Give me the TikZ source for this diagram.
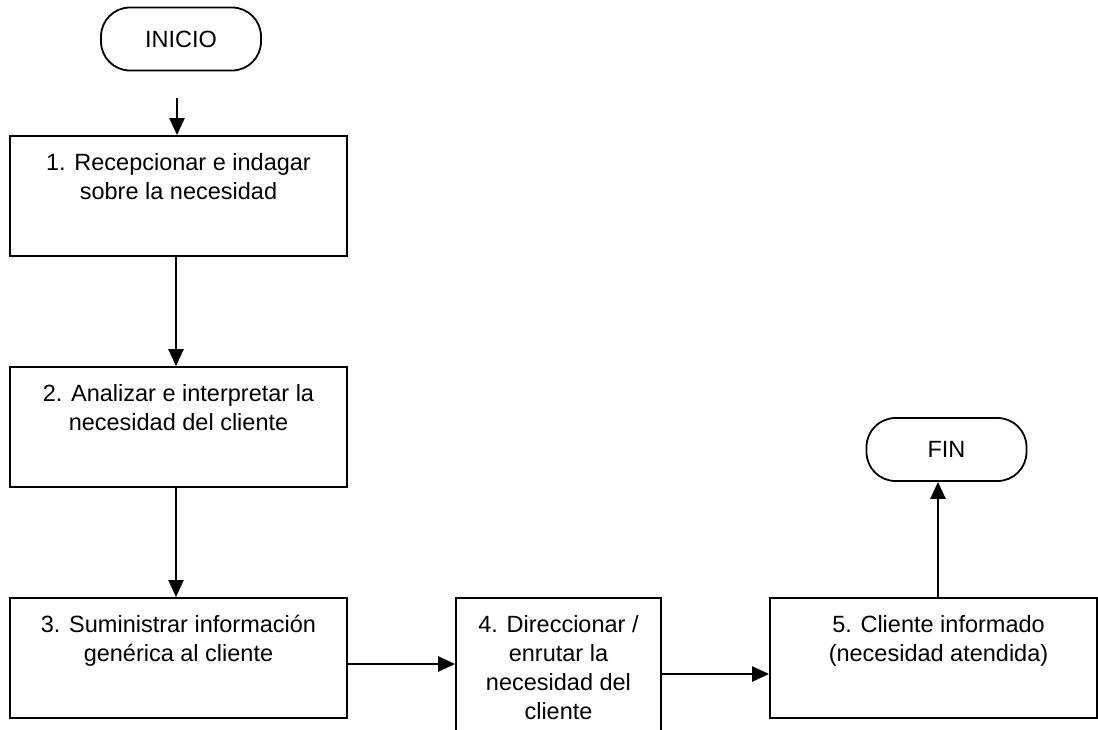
\documentclass[tikz,border=0pt]{standalone}
\usepackage{fontspec}
\setmainfont{Liberation Sans}
\usetikzlibrary{arrows.meta}
\begin{document}
\begin{tikzpicture}[x=1pt,y=-1pt,
  box/.style={draw=black, line width=1.8pt, rectangle, inner sep=0pt, minimum height=120pt},
  term/.style={draw=black, line width=1.8pt, rectangle, rounded corners=29pt, inner sep=0pt, minimum width=160pt, minimum height=63pt, font=\fontsize{23.5}{29}\selectfont},
  txt/.style={font=\fontsize{23.5}{29}\selectfont, align=center, inner sep=0pt, anchor=north},
  arr/.style={line width=2.4pt, -{Triangle[length=17pt,width=15pt]}}]
\clip (0,0) rectangle (1098,729);
\fill[white] (0,0) rectangle (1098,729);

\node[term] (inicio) at (181,39) {INICIO};
\node[term] (fin) at (946.5,449.5) {FIN};

\node[box, minimum width=337pt] (b1) at (178.5,196) {};
\node[box, minimum width=337pt] (b2) at (178.5,427) {};
\node[box, minimum width=337pt] (b3) at (178.5,658) {};
\node[box, minimum width=205pt, minimum height=160pt] (b4) at (558.5,678) {};
\node[box, minimum width=327pt] (b5) at (933.5,658) {};

\node[txt] (t1) at ([yshift=-13pt]b1.north) {\rule{0pt}{22pt}1. Recepcionar e indagar\\sobre la necesidad};
\node[txt] (t2) at ([yshift=-13pt]b2.north) {\rule{0pt}{22pt}2. Analizar e interpretar la\\necesidad del cliente};
\node[txt] (t3) at ([yshift=-13pt]b3.north) {\rule{0pt}{22pt}3. Suministrar información\\genérica al cliente};
\node[txt] (t4) at ([yshift=-13pt]b4.north) {\rule{0pt}{22pt}4. Direccionar /\\enrutar la\\necesidad del\\cliente};
\node[txt] (t5) at ([xshift=5pt,yshift=-13pt]b5.north) {\rule{0pt}{22pt}5. Cliente informado\\(necesidad atendida)};

\coordinate (a0) at ([xshift=-4pt,yshift=-27pt]inicio.south);
\draw[arr] (a0) -- (a0 |- b1.north);
\draw[arr] ([xshift=-2.5pt]b1.south) -- ([xshift=-2.5pt]b2.north);
\draw[arr] ([xshift=-2.5pt]b2.south) -- ([xshift=-2.5pt]b3.north);
\draw[arr] ([yshift=-6pt]b3.east) -- ([yshift=-6pt]b3.east -| b4.west);
\draw[arr] ([yshift=4pt]b4.east) -- ([yshift=4pt]b4.east -| b5.west);
\draw[arr] ([xshift=4.5pt]b5.north) -- ([xshift=4.5pt]b5.north |- fin.south);
\end{tikzpicture}
\end{document}
